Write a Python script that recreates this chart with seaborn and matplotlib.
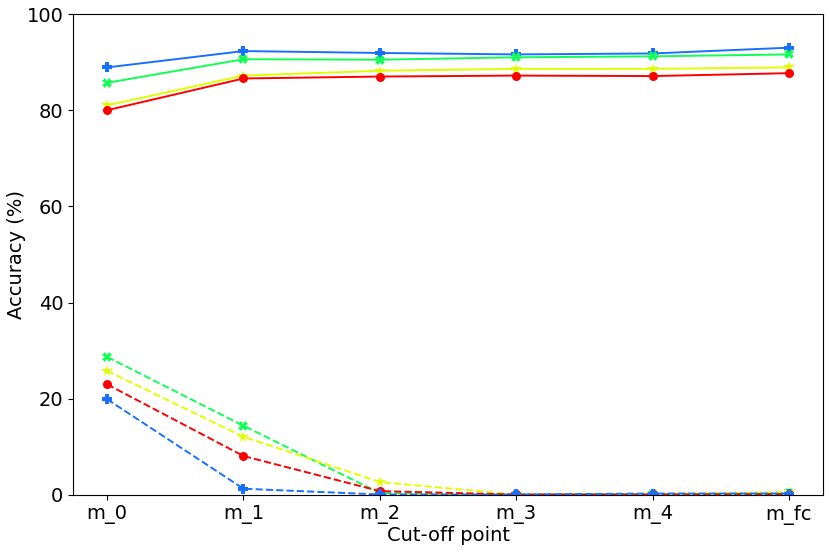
import matplotlib
matplotlib.use("Agg")
import matplotlib.pyplot as plt
import seaborn as sns
import pandas as pd

cutoffs = ["m_0", "m_1", "m_2", "m_3", "m_4", "m_fc"]

# solid lines
blue_solid = [88.9, 92.3, 91.9, 91.6, 91.8, 93.0]
green_solid = [85.7, 90.6, 90.5, 91.0, 91.2, 91.6]
yellow_solid = [81.0, 87.2, 88.2, 88.6, 88.6, 88.9]
red_solid = [80.0, 86.6, 87.0, 87.2, 87.1, 87.7]

# dashed lines
green_dash = [28.7, 14.4, 0.4, 0.0, 0.1, 0.4]
yellow_dash = [25.8, 12.1, 2.7, 0.1, 0.2, 0.6]
red_dash = [23.0, 8.1, 0.8, 0.1, 0.1, 0.2]
blue_dash = [19.9, 1.3, 0.1, 0.1, 0.3, 0.3]

colors = {"red": "#ff0000", "yellow": "#ddff00", "green": "#11ff55", "blue": "#1770ff"}
markers = {"red": "o", "yellow": "*", "green": "X", "blue": "P"}

series = [
    ("blue", blue_solid, "-"), ("green", green_solid, "-"),
    ("yellow", yellow_solid, "-"), ("red", red_solid, "-"),
    ("green", green_dash, "--"), ("yellow", yellow_dash, "--"),
    ("red", red_dash, "--"), ("blue", blue_dash, "--"),
]

fig = plt.figure(figsize=(8.3, 5.52), dpi=100)
ax = fig.add_axes([0.088, 0.1033, 0.9036, 0.8713])
for cname, vals, ls in series:
    df = pd.DataFrame({"x": cutoffs, "y": vals})
    sns.lineplot(data=df, x="x", y="y", ax=ax, color=colors[cname], linestyle=ls,
                 marker=markers[cname], markersize=6.5 if markers[cname] != "*" else 8.5,
                 markeredgewidth=0, linewidth=1.4, sort=False)

ax.set_ylim(0, 100)
ax.set_yticks([0, 20, 40, 60, 80, 100])
ax.set_xlabel("Cut-off point", fontsize=14, labelpad=1)
ax.set_ylabel("Accuracy (%)", fontsize=14, labelpad=0)
ax.tick_params(labelsize=14)
fig.savefig("out.png", dpi=100)
